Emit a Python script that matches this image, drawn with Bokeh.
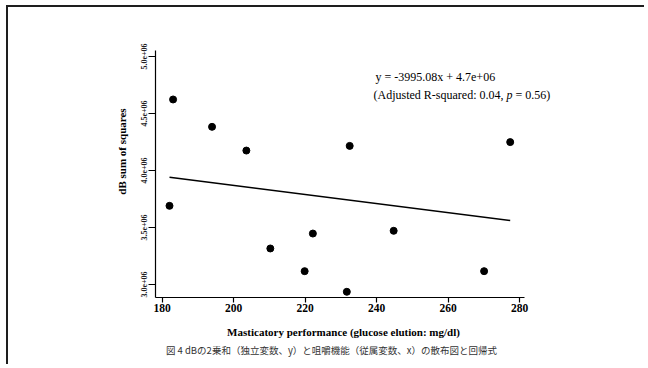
import math
import numpy as np
from bokeh.plotting import figure
from bokeh.models import Label, FixedTicker
from bokeh.embed import file_html
from bokeh.resources import INLINE

# ---- data ----
performance = [183.1, 194.0, 203.6, 182.1, 210.3, 222.2, 219.9, 231.7, 232.5, 277.4, 244.8, 270.1]
db_sum_sq = [4.623e6, 4.383e6, 4.175e6, 3.690e6, 3.316e6, 3.447e6, 3.117e6, 2.936e6,
             4.216e6, 4.249e6, 3.471e6, 3.117e6]
slope = -3995.08
intercept = 4.669e6
x_ticks = [180, 200, 220, 240, 260, 280]
x_tick_labels = ["180", "200", "220", "240", "260", "280"]
y_ticks = [3.0e6, 3.5e6, 4.0e6, 4.5e6, 5.0e6]
y_tick_labels = ["3.0e+06", "3.5e+06", "4.0e+06", "4.5e+06", "5.0e+06"]
x_axis_span = (178.2, 281.4)
y_axis_span = (2.889e6, 5.053e6)
eq_text = "y = -3995.08x + 4.7e+06"
r2_text_a = "(Adjusted R-squared: 0.04,"
r2_text_p = "p"
r2_text_b = "= 0.56)"
x_title = "Masticatory performance (glucose elution: mg/dl)"
y_title = "dB sum of squares"
caption = "図 4 dBの2乗和（独立変数、y）と咀嚼機能（従属変数、x）の散布図と回帰式"

SERIF = "Liberation Serif"

# ---- layout (page pixels) ----
CANVAS_X0, CANVAS_Y0 = 8, 7          # canvas origin on the page (after css margin + border)
W, H = 638, 359
PX_PER_X = 3.575                     # pixels per x unit
PX_PER_Y = 114 / 1e6                 # pixels per y unit
X_REF_PX, X_REF_VAL = 161.5, 180
Y_REF_PX, Y_REF_VAL = 56, 5.0e6

x0 = X_REF_VAL - (X_REF_PX - CANVAS_X0) / PX_PER_X
x1 = x0 + W / PX_PER_X
ytop = Y_REF_VAL + (Y_REF_PX - CANVAS_Y0) / PX_PER_Y
ybot = ytop - H / PX_PER_Y

p = figure(width=W, height=H, output_backend="svg", toolbar_location=None,
           x_range=(x0, x1), y_range=(ybot, ytop),
           min_border=0, min_border_left=0, min_border_right=0,
           min_border_top=0, min_border_bottom=0)
p.styles = {"margin-left": "6px", "margin-top": "5px",
            "border-top": "2px solid #1e1e1e", "border-left": "2px solid #1e1e1e"}
p.outline_line_color = None
p.xgrid.grid_line_color = None
p.ygrid.grid_line_color = None
p.background_fill_color = "white"
p.border_fill_color = "white"

# axes drawn at fixed positions inside the (full-canvas) frame
xa = p.xaxis[0]
xa.fixed_location = y_axis_span[0]
xa.bounds = x_axis_span
xa.ticker = FixedTicker(ticks=x_ticks)
xa.major_label_overrides = {t: l for t, l in zip(x_ticks, x_tick_labels)}
xa.minor_tick_line_color = None
xa.major_tick_in = 0
xa.major_tick_out = 5
xa.axis_line_color = "black"
xa.axis_line_width = 1.2
xa.major_tick_line_width = 1.2
xa.major_label_text_font = SERIF
xa.major_label_text_font_style = "bold"
xa.major_label_text_font_size = "11.5px"
xa.major_label_text_color = "black"
xa.major_label_standoff = 2

ya = p.yaxis[0]
ya.fixed_location = x_axis_span[0]
ya.bounds = y_axis_span
ya.ticker = FixedTicker(ticks=y_ticks)
ya.major_label_overrides = {t: l for t, l in zip(y_ticks, y_tick_labels)}
ya.minor_tick_line_color = None
ya.major_tick_in = 0
ya.major_tick_out = 7
ya.axis_line_color = "black"
ya.axis_line_width = 1.2
ya.major_tick_line_width = 1.2
ya.major_label_orientation = "vertical"
ya.major_label_text_font = SERIF
ya.major_label_text_font_style = "bold"
ya.major_label_text_font_size = "8px"
ya.major_label_text_color = "#222222"
ya.major_label_standoff = 2

# regression line across the data range
xs = np.array([min(performance), max(performance)])
p.line(xs, slope * xs + intercept, line_color="black", line_width=1.6)

# points
p.scatter(performance, db_sum_sq, size=7, marker="circle", fill_color="black", line_color="black")

def px_to_x(px):
    return X_REF_VAL + (px - X_REF_PX) / PX_PER_X

def py_to_y(py):
    return Y_REF_VAL - (py - Y_REF_PX) / PX_PER_Y

def add_label(text, px, py, size, style="normal", align="left", angle=0.0, font=SERIF, color="black"):
    p.add_layout(Label(x=px_to_x(px), y=py_to_y(py), text=text, text_font=font,
                       text_font_size=size, text_font_style=style, text_align=align,
                       text_baseline="middle", angle=angle, text_color=color))

add_label(eq_text, 375, 76, "12px")
add_label(r2_text_a, 373, 94, "12px")
add_label(r2_text_p, 506, 94, "12px", style="italic")
add_label(r2_text_b, 515, 94, "12px")
add_label(y_title, 121, 151, "11px", style="bold", align="center", angle=math.pi / 2)
add_label(x_title, 343, 331, "11px", style="bold", align="center")
add_label(caption, 331, 349, "9.5px", align="center", font="Noto Sans CJK JP", color="#333333")

open("out.html", "w").write(file_html(p, INLINE))
